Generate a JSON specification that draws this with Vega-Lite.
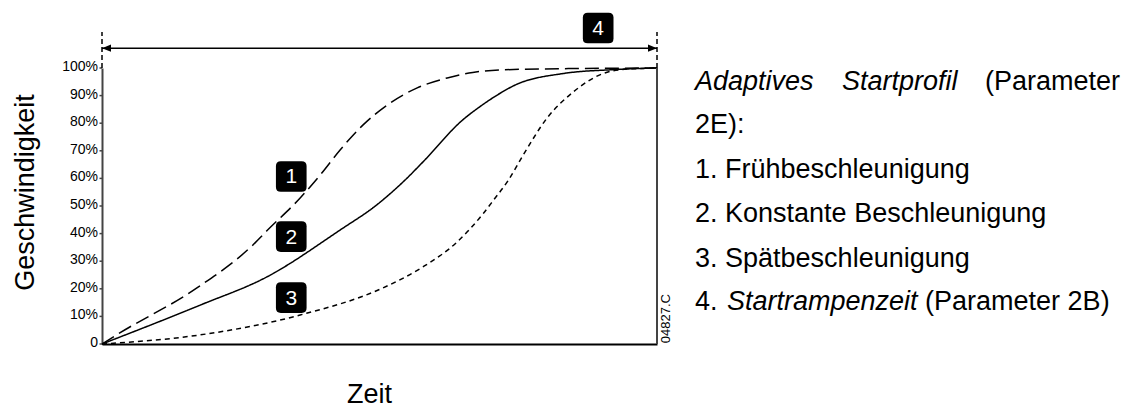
{
  "$schema": "https://vega.github.io/schema/vega-lite/v6.json",
  "width": 555,
  "height": 276,
  "autosize": {"type": "none"},
  "padding": {"left": 102, "top": 68, "right": 471, "bottom": 64},
  "background": "white",
  "config": {"view": {"stroke": null}, "font": "Liberation Sans"},
  "datasets": {
    "curves": [
      {"curve": "1", "t": 0, "v": 0},
      {"curve": "1", "t": 0.032, "v": 4.0},
      {"curve": "1", "t": 0.171, "v": 20.3},
      {"curve": "1", "t": 0.272, "v": 35.9},
      {"curve": "1", "t": 0.297, "v": 41.0},
      {"curve": "1", "t": 0.357, "v": 52.9},
      {"curve": "1", "t": 0.393, "v": 61.2},
      {"curve": "1", "t": 0.429, "v": 70.3},
      {"curve": "1", "t": 0.47, "v": 79.3},
      {"curve": "1", "t": 0.514, "v": 86.6},
      {"curve": "1", "t": 0.568, "v": 92.8},
      {"curve": "1", "t": 0.622, "v": 96.4},
      {"curve": "1", "t": 0.668, "v": 98.4},
      {"curve": "1", "t": 0.717, "v": 99.3},
      {"curve": "1", "t": 0.85, "v": 99.8},
      {"curve": "1", "t": 1, "v": 100},
      {"curve": "2", "t": 0, "v": 0},
      {"curve": "2", "t": 0.177, "v": 14.1},
      {"curve": "2", "t": 0.297, "v": 24.3},
      {"curve": "2", "t": 0.429, "v": 41.3},
      {"curve": "2", "t": 0.495, "v": 50.4},
      {"curve": "2", "t": 0.546, "v": 59.4},
      {"curve": "2", "t": 0.578, "v": 65.9},
      {"curve": "2", "t": 0.65, "v": 81.2},
      {"curve": "2", "t": 0.681, "v": 86.0},
      {"curve": "2", "t": 0.717, "v": 90.8},
      {"curve": "2", "t": 0.741, "v": 93.5},
      {"curve": "2", "t": 0.831, "v": 98.0},
      {"curve": "2", "t": 0.921, "v": 99.4},
      {"curve": "2", "t": 1, "v": 100},
      {"curve": "3", "t": 0, "v": 0},
      {"curve": "3", "t": 0.177, "v": 3.3},
      {"curve": "3", "t": 0.357, "v": 10.5},
      {"curve": "3", "t": 0.506, "v": 20.3},
      {"curve": "3", "t": 0.578, "v": 27.9},
      {"curve": "3", "t": 0.64, "v": 37.0},
      {"curve": "3", "t": 0.687, "v": 47.3},
      {"curve": "3", "t": 0.705, "v": 52.0},
      {"curve": "3", "t": 0.732, "v": 59.3},
      {"curve": "3", "t": 0.759, "v": 68.5},
      {"curve": "3", "t": 0.802, "v": 81.9},
      {"curve": "3", "t": 0.849, "v": 91.3},
      {"curve": "3", "t": 0.903, "v": 98.0},
      {"curve": "3", "t": 0.946, "v": 99.6},
      {"curve": "3", "t": 1, "v": 100}
    ],
    "yticks": [
      {"v": 0, "lab": "0"},
      {"v": 10, "lab": "10%"},
      {"v": 20, "lab": "20%"},
      {"v": 30, "lab": "30%"},
      {"v": 40, "lab": "40%"},
      {"v": 50, "lab": "50%"},
      {"v": 60, "lab": "60%"},
      {"v": 70, "lab": "70%"},
      {"v": 80, "lab": "80%"},
      {"v": 90, "lab": "90%"},
      {"v": 100, "lab": "100%"}
    ],
    "badges": [
      {"label": "1", "t": 0.341, "v": 60.7},
      {"label": "2", "t": 0.341, "v": 38.9},
      {"label": "3", "t": 0.341, "v": 16.8},
      {"label": "4", "t": 0.894, "v": 114.5}
    ],
    "textNormal": [
      {"text": "(Parameter", "t": 1.591, "v": 92.0},
      {"text": "2E):", "t": 1.0685, "v": 76.4},
      {"text": "1. Frühbeschleunigung", "t": 1.0685, "v": 60.1},
      {"text": "2. Konstante Beschleunigung", "t": 1.0685, "v": 44.2},
      {"text": "3. Spätbeschleunigung", "t": 1.0685, "v": 27.9},
      {"text": "4.", "t": 1.0685, "v": 12.3},
      {"text": "(Parameter 2B)", "t": 1.483, "v": 12.3}
    ],
    "textItalic": [
      {"text": "Adaptives", "t": 1.0685, "v": 92.0},
      {"text": "Startprofil", "t": 1.3333, "v": 92.0},
      {"text": "Startrampenzeit", "t": 1.126, "v": 12.3}
    ],
    "one": [{"k": 1}]
  },
  "layer": [
    {
      "data": {"name": "curves"},
      "mark": {"type": "line", "interpolate": "monotone", "color": "black", "strokeWidth": 1.5},
      "encoding": {
        "x": {
          "field": "t", "type": "quantitative",
          "scale": {"domain": [0, 1], "nice": false, "zero": false},
          "axis": {
            "domain": true, "domainColor": "black", "domainWidth": 2,
            "ticks": false, "labels": false, "grid": false,
            "title": "Zeit", "titleFont": "Liberation Sans", "titleFontSize": 27,
            "titleFontWeight": "normal", "titleColor": "black",
            "titleX": 267, "titleY": 58, "titleAlign": "center", "titleBaseline": "alphabetic"
          }
        },
        "y": {
          "field": "v", "type": "quantitative",
          "scale": {"domain": [0, 100], "nice": false},
          "axis": {
            "ticks": false, "labels": false,
            "grid": false, "domainColor": "#444", "domainWidth": 2,
            "title": "Geschwindigkeit", "titleFont": "Liberation Sans", "titleFontSize": 27,
            "titleFontWeight": "normal", "titleColor": "black", "titleAngle": 270,
            "titleX": -77, "titleY": 124, "titleAlign": "center", "titleBaseline": "middle"
          }
        },
        "detail": {"field": "curve"},
        "strokeDash": {
          "field": "curve", "type": "nominal",
          "scale": {"domain": ["1", "2", "3"], "range": [[14, 6], [1, 0], [5, 4]]},
          "legend": null
        }
      }
    },
    {
      "data": {"name": "yticks"},
      "mark": {"type": "point", "shape": "M-1,0L0,0", "filled": false, "stroke": "#444", "strokeWidth": 1.5, "opacity": 1, "size": 25},
      "encoding": {"x": {"datum": 0}, "y": {"field": "v", "type": "quantitative"}}
    },
    {
      "data": {"name": "yticks"},
      "mark": {"type": "text", "color": "black", "fontSize": 14, "align": "right", "baseline": "middle", "dx": -4, "dy": -1},
      "encoding": {"x": {"datum": 0}, "y": {"field": "v", "type": "quantitative"}, "text": {"field": "lab"}}
    },
    {
      "data": {"name": "one"},
      "mark": {"type": "rule", "color": "#444", "strokeWidth": 2},
      "encoding": {"x": {"datum": 1}, "y": {"datum": 0}, "y2": {"datum": 100}}
    },
    {
      "data": {"name": "one"},
      "mark": {"type": "rule", "color": "black", "strokeWidth": 1.5},
      "encoding": {"x": {"datum": 0}, "x2": {"datum": 1}, "y": {"datum": 107.2}}
    },
    {
      "data": {"values": [{"t": 0}, {"t": 1}]},
      "mark": {"type": "rule", "color": "black", "strokeWidth": 1.5, "strokeDash": [5, 3]},
      "encoding": {"x": {"field": "t", "type": "quantitative"}, "y": {"datum": 100}, "y2": {"datum": 113}}
    },
    {
      "data": {"name": "one"},
      "mark": {"type": "point", "shape": "M0,0L2,-0.8L2,0.8Z", "filled": true, "color": "black", "opacity": 1, "size": 81, "strokeWidth": 0},
      "encoding": {"x": {"datum": 0}, "y": {"datum": 107.2}}
    },
    {
      "data": {"name": "one"},
      "mark": {"type": "point", "shape": "M0,0L-2,-0.8L-2,0.8Z", "filled": true, "color": "black", "opacity": 1, "size": 81, "strokeWidth": 0},
      "encoding": {"x": {"datum": 1}, "y": {"datum": 107.2}}
    },
    {
      "data": {"name": "badges"},
      "mark": {"type": "point", "shape": "M-0.68,-1L0.68,-1Q1,-1 1,-0.68L1,0.68Q1,1 0.68,1L-0.68,1Q-1,1 -1,0.68L-1,-0.68Q-1,-1 -0.68,-1Z", "filled": true, "color": "black", "opacity": 1, "size": 940, "strokeWidth": 0},
      "encoding": {"x": {"field": "t", "type": "quantitative"}, "y": {"field": "v", "type": "quantitative"}}
    },
    {
      "data": {"name": "badges"},
      "mark": {"type": "text", "color": "white", "fontSize": 21, "align": "center", "baseline": "middle", "dy": 1},
      "encoding": {"x": {"field": "t", "type": "quantitative"}, "y": {"field": "v", "type": "quantitative"}, "text": {"field": "label"}}
    },
    {
      "data": {"name": "one"},
      "mark": {"type": "text", "color": "black", "fontSize": 13, "angle": 270, "align": "left", "baseline": "middle"},
      "encoding": {"x": {"datum": 1.016}, "y": {"datum": 0.3}, "text": {"value": "04827.C"}}
    },
    {
      "data": {"name": "textNormal"},
      "mark": {"type": "text", "color": "black", "font": "Liberation Sans", "fontSize": 27, "align": "left", "baseline": "alphabetic"},
      "encoding": {"x": {"field": "t", "type": "quantitative"}, "y": {"field": "v", "type": "quantitative"}, "text": {"field": "text"}}
    },
    {
      "data": {"name": "textItalic"},
      "mark": {"type": "text", "color": "black", "font": "Liberation Sans", "fontStyle": "italic", "fontSize": 27, "align": "left", "baseline": "alphabetic"},
      "encoding": {"x": {"field": "t", "type": "quantitative"}, "y": {"field": "v", "type": "quantitative"}, "text": {"field": "text"}}
    }
  ]
}
